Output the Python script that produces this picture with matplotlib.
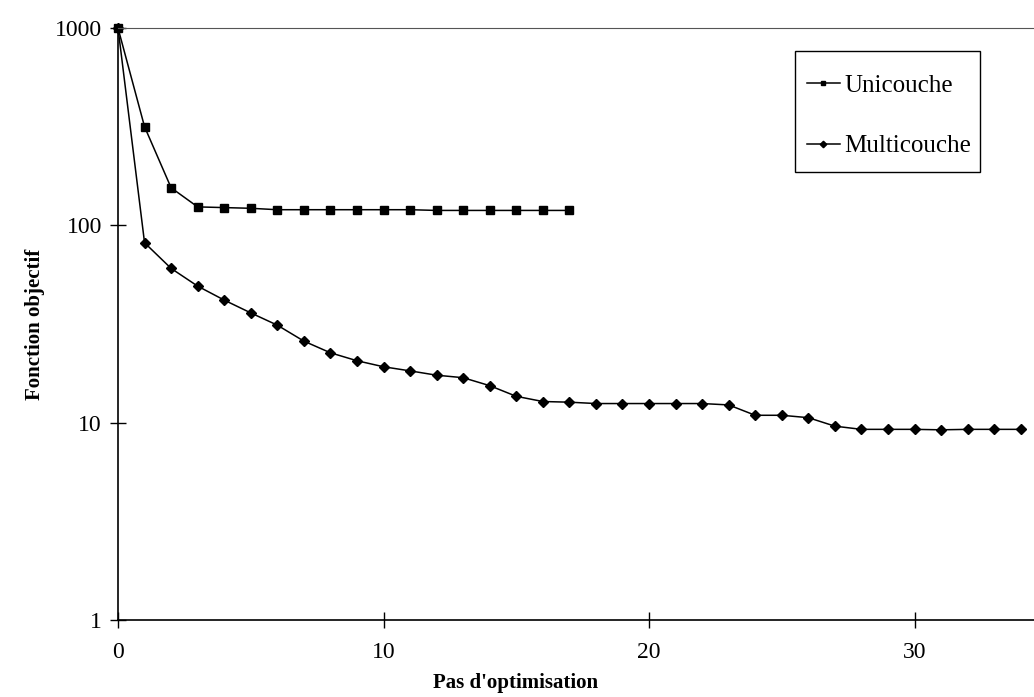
import numpy as np
from matplotlib import pyplot as plt
from matplotlib.patches import Rectangle
from matplotlib.ticker import FixedLocator, FixedFormatter, NullLocator

# valeurs
steps_uni = list(range(0, 18))
uni = [1000, 316, 155, 124, 123, 122, 120, 120, 120, 120, 120, 120, 119, 119, 119, 119, 119, 119]

steps_multi = list(range(0, 35))
multi = [1000, 81.6, 60.5, 49.2, 41.8, 36.0, 31.2, 25.9, 22.6, 20.6, 19.2, 18.3, 17.4, 16.9,
         15.4, 13.6, 12.8, 12.7, 12.5, 12.5, 12.5, 12.5, 12.5, 12.3, 10.9, 10.9, 10.6, 9.6,
         9.25, 9.25, 9.25, 9.2, 9.25, 9.25, 9.25]

yticks = [1, 10, 100, 1000]
xticks = [0, 10, 20, 30]

plt.rcParams['font.family'] = ['Liberation Serif', 'DejaVu Serif']

W, H = 1034, 697
fig = plt.figure(figsize=(W/100, H/100), dpi=100)
ax = fig.add_axes([118/W, 1-620/H, 1-118/W, (620-28)/H])

ax.plot(steps_uni, uni, color='black', lw=1.1, marker='s', ms=5.5, label='Unicouche', clip_on=False)
ax.plot(steps_multi, multi, color='black', lw=1.1, marker='D', ms=5.5, label='Multicouche', clip_on=False)

ax.set_yscale('log')
ax.set_ylim(1, 1000)
ax.set_xlim(0, 34.5)
ax.yaxis.set_major_locator(FixedLocator(yticks))
ax.yaxis.set_major_formatter(FixedFormatter([str(v) for v in yticks]))
ax.yaxis.set_minor_locator(NullLocator())
ax.set_xticks(xticks)
ax.tick_params(direction='inout', length=11, width=1, labelsize=17)
ax.tick_params(axis='y', pad=6)
ax.tick_params(axis='x', pad=10)

for s in ['left', 'bottom']:
    ax.spines[s].set_linewidth(1.2)
ax.spines['top'].set_color('#555555')
ax.spines['right'].set_visible(False)

ax.set_ylabel('Fonction objectif', fontsize=15, fontweight='bold', labelpad=7)
fig.text(516/W, 1-683/H, "Pas d'optimisation", fontsize=15, fontweight='bold',
         ha='center', va='center')

# cadre de la légende
fig.patches.append(Rectangle((795/W, 1-172/H), (980-795)/W, (172-51)/H,
                             transform=fig.transFigure, fill=False,
                             edgecolor='black', lw=1))
leg = ax.legend(loc='upper left', bbox_to_anchor=(807/W, 1-74/H),
                bbox_transform=fig.transFigure, borderaxespad=0, borderpad=0,
                fontsize=18, frameon=False, labelspacing=1.53,
                handlelength=1.3, handletextpad=0.2, markerscale=0.6)

fig.savefig('out.png', dpi=100)
